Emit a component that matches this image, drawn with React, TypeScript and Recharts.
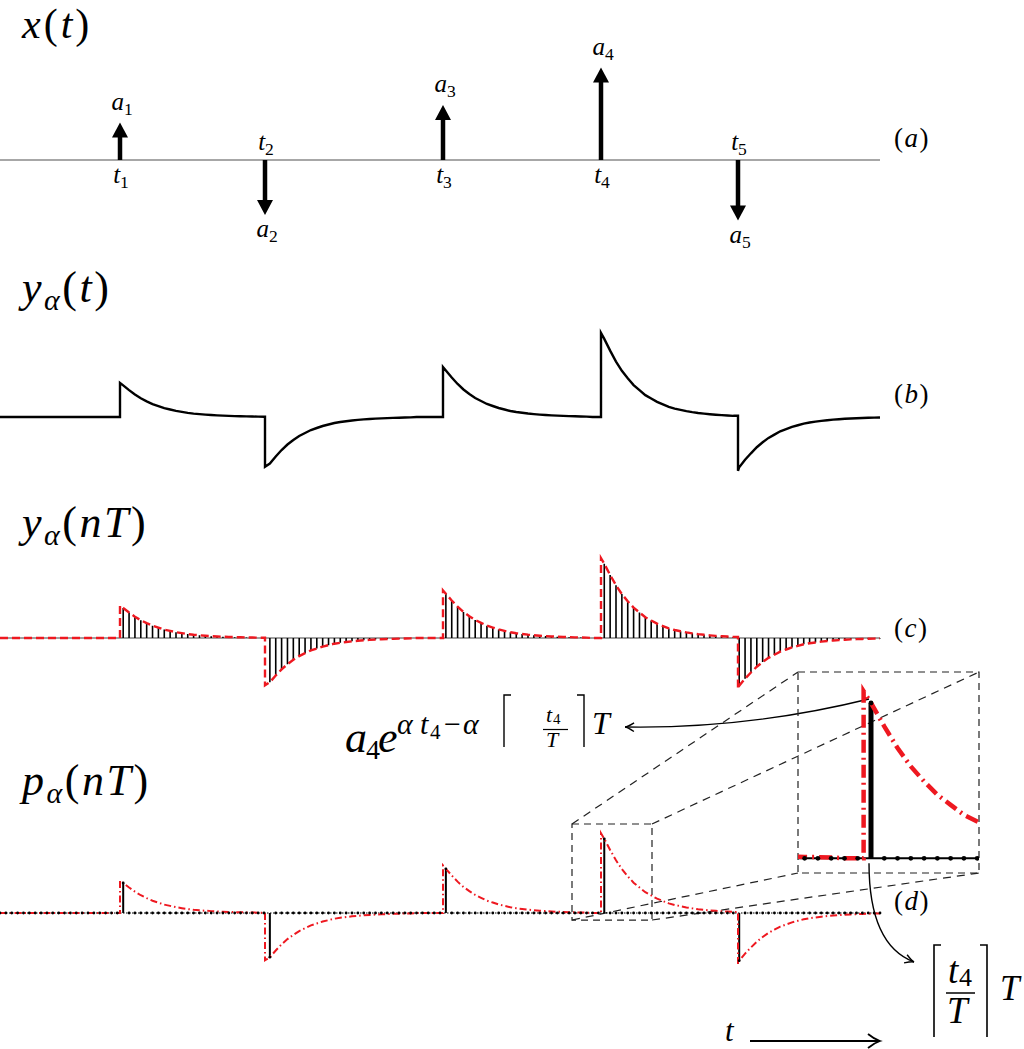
import React from "react";
import { ComposedChart, Line, Scatter, XAxis, YAxis, ReferenceLine, ReferenceArea } from "recharts";

// impulses of x(t): instants and weights
const IMPULSE_T = [120, 265, 443, 601, 738];
const AMPS = [0.34, -0.5, 0.5, 0.84, -0.55];
const IMPULSE_NAMES = ["1", "2", "3", "4", "5"];

// y_alpha(nT) / a_k, read per sample after each impulse
const DECAY = [0.93, 0.79, 0.66, 0.55, 0.46, 0.38, 0.32, 0.26, 0.22, 0.18, 0.15, 0.12, 0.1, 0.085, 0.07, 0.058, 0.048, 0.04, 0.033, 0.027, 0.022, 0.018, 0.014, 0.011, 0.008];

const T_END = 880;
const N_SAMPLES = 150;
const SAMPLE_T = T_END / N_SAMPLES;

// zoomed window of (d) and where its magnified copy sits
const ZOOM = { t0: 572, t1: 652, v0: -0.074, v1: 0.937 };
const INSET = { left: 798, top: 672, width: 181, height: 201 };

const W = 1024;
const H = 1049;
const SERIF = "Liberation Serif";
const RED = "#ee1820";
const INK = "#000";

const PANEL = {
  a: { base: 160, scale: 110 },
  b: { base: 417, scale: 100 },
  c: { base: 638, scale: 95 },
  d: { base: 913, scale: 95 },
};
const yDomain = (p: { base: number; scale: number }) => [(p.base - H) / p.scale, p.base / p.scale];
const toD = (py: number) => (PANEL.d.base - py) / PANEL.d.scale;
const insetX = (t: number) => INSET.left + ((t - ZOOM.t0) / (ZOOM.t1 - ZOOM.t0)) * INSET.width;
const insetY = (v: number) => INSET.top + ((ZOOM.v1 - v) / (ZOOM.v1 - ZOOM.v0)) * INSET.height;

// ---- tables built from the arrays above
const firstIdx = IMPULSE_T.map((t) => Math.ceil(t / SAMPLE_T));
const samples = Array.from({ length: N_SAMPLES + 1 }, (_, n) => {
  let v = 0;
  firstIdx.forEach((n0, k) => {
    const j = n - n0;
    if (j >= 0 && j < DECAY.length) v += AMPS[k] * DECAY[j];
  });
  return { t: n * SAMPLE_T, v, o: 0 };
});
const curve = [...samples];
IMPULSE_T.forEach((t, k) => {
  const before = samples[firstIdx[k] - 1].v;
  curve.push({ t, v: before, o: 1 }, { t, v: before + AMPS[k], o: 2 });
});
curve.sort((p, q) => p.t - q.t || p.o - q.o);

const stems = (pts: { t: number; v: number }[]) =>
  pts
    .filter((s) => Math.abs(s.v) > 0.004)
    .flatMap((s) => [
      { t: s.t, v: 0 },
      { t: s.t, v: s.v },
      { t: s.t, v: null },
    ]);
const stemsC = stems(samples);
const pSamples = samples.map((s, n) => ({ t: s.t, v: firstIdx.includes(n) ? s.v : 0 }));
const stemsD = stems(pSamples);

const stem4 = pSamples[firstIdx[3]];

// ---- shapes
function Sub({ x, y, base, sub, size = 25 }: any) {
  return (
    <text x={x} y={y} fontFamily={SERIF} fontSize={size} textAnchor="middle" fill={INK}>
      <tspan fontStyle="italic">{base}</tspan>
      <tspan fontSize={size * 0.7} dy={size * 0.2}>
        {sub}
      </tspan>
    </text>
  );
}

function ImpulseArrow(props: any) {
  const { x1, y1, x2, y2, k } = props;
  const dir = y2 < y1 ? -1 : 1;
  const head = 15;
  const half = 8;
  const baseY = y2 - dir * head;
  return (
    <g>
      <line x1={x1} y1={y1} x2={x2} y2={baseY + dir} stroke={INK} strokeWidth={4.5} />
      <path d={`M${x2},${y2} L${x2 - half},${baseY} L${x2 + half},${baseY} Z`} fill={INK} />
      <Sub x={x2 + 2} y={dir < 0 ? y2 - 13 : y2 + 22} base="a" sub={IMPULSE_NAMES[k]} />
      <Sub x={x1 + 1} y={dir < 0 ? y1 + 23 : y1 - 10} base="t" sub={IMPULSE_NAMES[k]} />
    </g>
  );
}

function CurvedArrow(props: any) {
  const { x1, y1, x2, y2, ctrl } = props;
  const c = ctrl(x1, y1, x2, y2);
  const ang = Math.atan2(y2 - c.y, x2 - c.x);
  const L = 10;
  const b1 = [x2 - L * Math.cos(ang - 0.45), y2 - L * Math.sin(ang - 0.45)];
  const b2 = [x2 - L * Math.cos(ang + 0.45), y2 - L * Math.sin(ang + 0.45)];
  const m = [x2 - 2 * Math.cos(ang), y2 - 2 * Math.sin(ang)];
  return (
    <g fill="none" stroke={INK} strokeWidth={1.4}>
      <path d={`M${x1},${y1} Q${c.x},${c.y} ${x2},${y2}`} />
      <path d={`M${b1[0]},${b1[1]} Q${m[0]},${m[1]} ${x2},${y2} Q${m[0]},${m[1]} ${b2[0]},${b2[1]}`} />
    </g>
  );
}

const dot = (r: number) => (p: any) => <circle cx={p.cx} cy={p.cy} r={r} fill={INK} />;

// connectors from the small window to the magnified box (in panel d units)
const connectors = [
  [ZOOM.t0, ZOOM.v1, INSET.left, toD(INSET.top)],
  [ZOOM.t1, ZOOM.v1, INSET.left + INSET.width, toD(INSET.top)],
  [ZOOM.t0, ZOOM.v0, INSET.left, toD(INSET.top + INSET.height)],
  [ZOOM.t1, ZOOM.v0, INSET.left + INSET.width, toD(INSET.top + INSET.height)],
];

const arrowToFormula = [
  { x: insetX(stem4.t) - 2, y: toD(insetY(stem4.v) - 4) },
  { x: 625, y: toD(727) },
];
const arrowToGrid = [
  { x: insetX(stem4.t) - 2, y: toD(insetY(0) + 5) },
  { x: 914, y: toD(962) },
];

function Ceil({ x0, x1, top, bottom, w = 1.4 }: any) {
  return (
    <g fill="none" stroke={INK} strokeWidth={w}>
      <path d={`M${x0},${bottom} L${x0},${top} L${x0 + 7},${top}`} />
      <path d={`M${x1 - 7},${top} L${x1},${top} L${x1},${bottom}`} />
    </g>
  );
}

function Title({ y, head, args }: { y: number; head: string; args: string }) {
  return (
    <text x={22} y={y} fontSize={44} letterSpacing={2.5} fontFamily={SERIF} fill={INK}>
      <tspan fontStyle="italic">{head}</tspan>
      <tspan fontStyle="italic" fontSize={30} dy={8}>α</tspan>
      <tspan dy={-8}>(</tspan>
      <tspan fontStyle="italic">{args}</tspan>)
    </text>
  );
}

function M({ x, y, s, children, i }: any) {
  return (
    <text x={x} y={y} fontSize={s} fontFamily={SERIF} fontStyle={i ? "italic" : "normal"} fill={INK}>
      {children}
    </text>
  );
}

function Texts() {
  return (
    <svg width={W} height={H} style={{ position: "absolute", left: 0, top: 0, pointerEvents: "none" }}>
      <text x={22} y={38} fontSize={42} letterSpacing={3} fontFamily={SERIF} fill={INK}>
        <tspan fontStyle="italic">x</tspan>(<tspan fontStyle="italic">t</tspan>)
      </text>
      <Title y={302} head="y" args="t" />
      <Title y={537} head="y" args="nT" />
      <Title y={795} head="p" args="nT" />

      {[["a", 147], ["b", 403], ["c", 637], ["d", 910]].map(([s, y]) => (
        <text key={s as string} x={894} y={y as number} fontSize={27} letterSpacing={1.5} fontFamily={SERIF} fill={INK}>
          (<tspan fontStyle="italic">{s}</tspan>)
        </text>
      ))}

      {/* a4 e^{alpha t4 - alpha ceil(t4/T) T} */}
      <M x={345} y={752} s={44} i>a</M>
      <M x={366} y={759} s={28}>4</M>
      <M x={378} y={752} s={44} i>e</M>
      <M x={397} y={734} s={30} i>α</M>
      <M x={420} y={734} s={30} i>t</M>
      <M x={430} y={739} s={21}>4</M>
      <M x={444} y={734} s={30}>−</M>
      <M x={463} y={734} s={30} i>α</M>
      <Ceil x0={504} x1={584} top={695} bottom={747} />
      <M x={546} y={722} s={22} i>t</M>
      <M x={553} y={724} s={15}>4</M>
      <line x1={543} x2={568} y1={729.5} y2={729.5} stroke={INK} strokeWidth={1.2} />
      <M x={546} y={747} s={22} i>T</M>
      <M x={592} y={734} s={32} i>T</M>

      {/* ceil(t4/T) T */}
      <Ceil x0={934} x1={987} top={945} bottom={1037} w={1.6} />
      <M x={948} y={983} s={37} i>t</M>
      <M x={959} y={986} s={26}>4</M>
      <line x1={946} x2={975} y1={993} y2={993} stroke={INK} strokeWidth={1.5} />
      <M x={947} y={1023} s={37} i>T</M>
      <M x={1000} y={1000} s={35} i>T</M>

      {/* time direction */}
      <M x={725} y={1041} s={31} i>t</M>
      <line x1={750} x2={879} y1={1041} y2={1041} stroke={INK} strokeWidth={2} />
      <path d="M868,1034 Q874,1039 880,1041 Q874,1043 868,1048" fill="none" stroke={INK} strokeWidth={1.8} />
    </svg>
  );
}

export default function App() {
  return (
    <div style={{ position: "absolute", left: 0, top: 0, width: W, height: H, background: "#fff", overflow: "hidden" }}>
      <div style={{ position: "absolute", left: 0, top: 0 }}>
        <ComposedChart width={W} height={H} margin={{ top: 0, right: 0, bottom: 0, left: 0 }}>
          <XAxis type="number" dataKey="t" domain={[0, W]} hide allowDataOverflow />
          <YAxis yAxisId="a" type="number" domain={yDomain(PANEL.a)} hide allowDataOverflow />
          <YAxis yAxisId="b" type="number" domain={yDomain(PANEL.b)} hide allowDataOverflow />
          <YAxis yAxisId="c" type="number" domain={yDomain(PANEL.c)} hide allowDataOverflow />
          <YAxis yAxisId="d" type="number" domain={yDomain(PANEL.d)} hide allowDataOverflow />

          {/* (a) impulses */}
          <ReferenceLine yAxisId="a" segment={[{ x: 0, y: 0 }, { x: T_END, y: 0 }]} stroke="#8a8a8a" strokeWidth={1.5} ifOverflow="visible" />
          {IMPULSE_T.map((t, k) => (
            <ReferenceLine
              key={`imp${k}`}
              yAxisId="a"
              segment={[{ x: t, y: 0 }, { x: t, y: AMPS[k] }]}
              ifOverflow="visible"
              shape={(p: any) => <ImpulseArrow {...p} k={k} />}
            />
          ))}

          {/* (b) y_alpha(t) */}
          <Line yAxisId="b" data={curve} dataKey="v" type="linear" stroke={INK} strokeWidth={2.4} dot={false} activeDot={false} isAnimationActive={false} />

          {/* (c) y_alpha(nT) */}
          <ReferenceLine yAxisId="c" segment={[{ x: 0, y: 0 }, { x: T_END, y: 0 }]} stroke="#444" strokeWidth={1.2} ifOverflow="visible" />
          <Line yAxisId="c" data={stemsC} dataKey="v" type="linear" stroke={INK} strokeWidth={1.6} dot={false} activeDot={false} isAnimationActive={false} />
          <Line yAxisId="c" data={curve} dataKey="v" type="linear" stroke={RED} strokeWidth={2.4} strokeDasharray="8 4" dot={false} activeDot={false} isAnimationActive={false} />

          {/* (d) p_alpha(nT) */}
          <ReferenceArea yAxisId="d" x1={ZOOM.t0} x2={ZOOM.t1} y1={ZOOM.v0} y2={ZOOM.v1} fill="none" stroke="#222" strokeWidth={1.2} strokeDasharray="7 5" ifOverflow="visible" />
          {connectors.map(([xa, ya, xb, yb], i) => (
            <ReferenceLine key={`cn${i}`} yAxisId="d" segment={[{ x: xa, y: ya }, { x: xb, y: yb }]} stroke="#222" strokeWidth={1.2} strokeDasharray="8 6" ifOverflow="visible" />
          ))}
          <ReferenceLine yAxisId="d" segment={[{ x: 0, y: 0 }, { x: T_END, y: 0 }]} stroke={INK} strokeWidth={1} strokeDasharray="1.5 1.5" ifOverflow="visible" />
          <Scatter yAxisId="d" data={pSamples} dataKey="v" shape={dot(1.4)} isAnimationActive={false} />
          <Line yAxisId="d" data={stemsD} dataKey="v" type="linear" stroke={INK} strokeWidth={2} dot={false} activeDot={false} isAnimationActive={false} />
          <Line yAxisId="d" data={curve} dataKey="v" type="linear" stroke={RED} strokeWidth={2} strokeDasharray="7 3 1.5 3" dot={false} activeDot={false} isAnimationActive={false} />
          <ReferenceLine
            yAxisId="d"
            segment={arrowToFormula}
            ifOverflow="visible"
            shape={(p: any) => <CurvedArrow {...p} ctrl={(x1: number, y1: number, x2: number, y2: number) => ({ x: (x1 + x2) / 2, y: y2 + 2 })} />}
          />
          <ReferenceLine
            yAxisId="d"
            segment={arrowToGrid}
            ifOverflow="visible"
            shape={(p: any) => <CurvedArrow {...p} ctrl={(x1: number, y1: number, x2: number, y2: number) => ({ x: x1, y: y2 - 17 })} />}
          />
        </ComposedChart>
      </div>

      {/* magnified window of (d) */}
      <div style={{ position: "absolute", left: INSET.left - 3, top: INSET.top - 3 }}>
        <ComposedChart width={INSET.width + 6} height={INSET.height + 6} margin={{ top: 3, right: 3, bottom: 3, left: 3 }}>
          <XAxis type="number" dataKey="t" domain={[ZOOM.t0, ZOOM.t1]} hide allowDataOverflow />
          <YAxis type="number" domain={[ZOOM.v0, ZOOM.v1]} hide allowDataOverflow />
          <ReferenceArea x1={ZOOM.t0} x2={ZOOM.t1} y1={ZOOM.v0} y2={ZOOM.v1} fill="none" stroke="#222" strokeWidth={1.2} strokeDasharray="7 5" ifOverflow="visible" />
          <ReferenceLine y={0} stroke={INK} strokeWidth={2} />
          <Scatter data={pSamples} dataKey="v" shape={dot(2.4)} isAnimationActive={false} />
          <Line data={stemsD} dataKey="v" type="linear" stroke={INK} strokeWidth={5} dot={false} activeDot={false} isAnimationActive={false} />
          <Line data={curve} dataKey="v" type="linear" stroke={RED} strokeWidth={4.5} strokeDasharray="13 5 2 5" dot={false} activeDot={false} isAnimationActive={false} />
        </ComposedChart>
      </div>

      <Texts />
    </div>
  );
}
